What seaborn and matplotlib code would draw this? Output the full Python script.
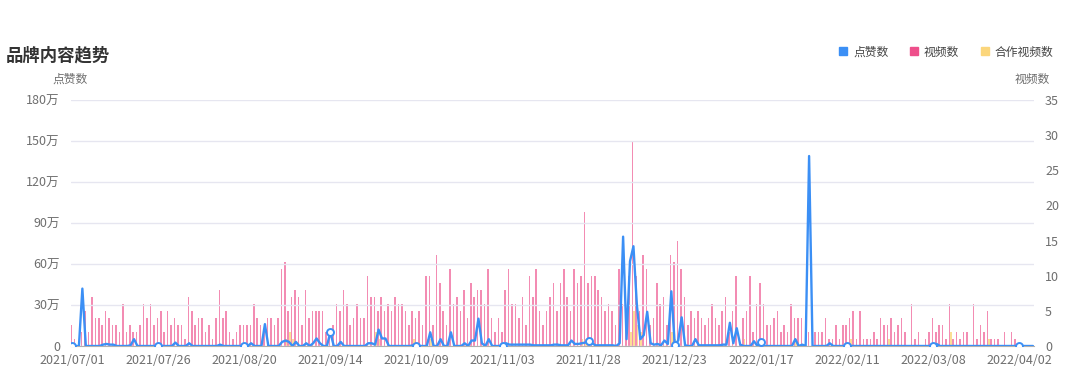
import pandas as pd
import seaborn as sns
import matplotlib.pyplot as plt
from matplotlib.lines import Line2D
from matplotlib.ticker import FuncFormatter

sns.set_style("white")
plt.rcParams['font.family'] = ['Noto Sans CJK SC', 'DejaVu Sans']

# daily values from 2021/07/01, 25 days per row
videos = [3, 1, 0, 2, 5, 2, 7, 4, 4, 3, 5, 4, 3, 3, 2, 6, 2, 3, 2, 2, 3, 6, 4, 6, 3,
          4, 5, 2, 5, 3, 4, 3, 3, 1, 7, 5, 3, 4, 4, 2, 3, 1, 4, 8, 4, 5, 2, 1, 2, 3,
          3, 3, 3, 6, 4, 3, 2, 4, 4, 3, 4, 11, 12, 5, 7, 8, 7, 3, 8, 4, 5, 5, 5, 5, 2,
          2, 3, 6, 5, 8, 6, 3, 4, 6, 4, 4, 10, 7, 7, 5, 7, 5, 6, 5, 7, 6, 6, 5, 3, 5,
          4, 5, 3, 10, 10, 3, 13, 9, 5, 3, 11, 6, 7, 5, 8, 4, 9, 7, 8, 8, 6, 11, 4, 2, 4,
          2, 8, 11, 6, 6, 4, 7, 3, 10, 7, 11, 5, 3, 5, 7, 9, 5, 9, 11, 7, 5, 11, 9, 10, 19,
          9, 10, 10, 8, 7, 5, 6, 5, 3, 11, 6, 3, 10, 29, 10, 5, 13, 11, 3, 4, 9, 6, 7, 3, 13,
          12, 15, 11, 7, 3, 5, 4, 5, 4, 3, 4, 6, 4, 3, 5, 7, 2, 5, 10, 1, 4, 5, 10, 2, 6,
          9, 6, 3, 3, 4, 5, 2, 3, 2, 6, 4, 4, 4, 0, 2, 0, 2, 2, 2, 4, 1, 1, 3, 1, 3,
          3, 4, 5, 1, 5, 1, 1, 1, 2, 1, 4, 3, 3, 4, 2, 3, 4, 2, 0, 6, 1, 2, 0, 1, 2,
          4, 2, 3, 3, 1, 6, 1, 2, 1, 2, 2, 0, 6, 1, 3, 2, 5, 1, 1, 1, 0, 2, 0, 2, 1,
          0, 0, 0, 0, 0]

coop = [0, 0, 0, 0, 0, 0, 0, 0, 0, 0, 0, 0, 0, 0, 0, 0, 0, 0, 0, 0, 0, 0, 0, 0, 0,
        0, 0, 0, 0, 0, 0, 0, 0, 0, 0, 0, 0, 0, 0, 0, 0, 0, 0, 0, 0, 0, 0, 0, 0, 0,
        0, 0, 0, 0, 0, 0, 0, 0, 0, 0, 0, 0, 1, 2, 1, 0, 0, 0, 0, 0, 0, 0, 0, 0, 0,
        0, 0, 0, 0, 0, 0, 0, 0, 0, 0, 0, 0, 0, 2, 1, 0, 0, 0, 0, 0, 0, 0, 0, 0, 1,
        0, 0, 0, 1, 1, 0, 0, 0, 0, 0, 0, 0, 0, 0, 0, 0, 0, 0, 0, 0, 0, 0, 0, 0, 0,
        0, 0, 0, 0, 0, 0, 0, 0, 0, 0, 0, 0, 0, 0, 0, 0, 0, 0, 0, 0, 0, 0, 0, 1, 1,
        1, 0, 0, 0, 0, 0, 0, 0, 0, 0, 0, 0, 2, 5, 3, 2, 0, 0, 0, 0, 0, 0, 0, 0, 2,
        1, 0, 0, 0, 0, 0, 0, 0, 0, 0, 0, 0, 0, 0, 0, 0, 0, 0, 0, 0, 1, 0, 0, 0, 0,
        0, 0, 0, 0, 0, 0, 0, 0, 0, 0, 1, 0, 0, 0, 0, 0, 0, 0, 0, 0, 0, 0, 0, 0, 0,
        0, 1, 0, 0, 0, 0, 0, 0, 0, 0, 0, 0, 1, 0, 0, 0, 0, 0, 0, 0, 0, 0, 0, 0, 0,
        0, 0, 0, 0, 0, 2, 0, 0, 0, 0, 0, 0, 0, 0, 0, 0, 1, 0, 0, 0, 0, 0, 0, 0, 0,
        0, 0, 0, 0, 0]

# 点赞数, unit 万
likes = [0, 0, 0, 42, 0, 0, 0, 0, 0, 1, 1.5, 1, 1, 0, 0, 0, 0, 0.5, 5, 0, 0, 0, 0, 0, 0,
         0, 0, 0, 0, 0, 2.5, 0, 0, 0, 2, 0, 0, 0, 0, 0, 0, 0, 0, 1, 0, 0, 0, 0, 0, 0,
         0, 0, 2, 0, 0, 0, 16, 0, 0, 0, 0, 3, 4, 3, 0, 3, 0, 0, 2, 0, 2, 5.5, 2, 0, 0,
         10, 0, 0, 3, 0, 0, 0, 0, 0, 0, 0, 2, 2, 1, 12, 5.5, 5.5, 0, 0, 0, 0, 0, 0, 0, 0.5,
         0, 0, 0, 0, 10, 0, 0, 5, 0, 0, 10, 0, 0, 0, 2, 0, 4, 4, 20, 2, 0, 5, 0, 0, 0,
         0, 2, 1, 1, 1, 1, 1, 1, 1, 0.5, 0.5, 0.5, 0.5, 0.5, 0.5, 1, 1, 0.5, 0.5, 0.5, 4, 1.5, 1.5, 2, 2.5,
         4, 2, 0.5, 0.5, 0.5, 0.5, 0.5, 0.5, 0, 2, 80, 5, 62, 73, 30, 5, 8, 25, 2, 1, 1.5, 0.5, 4, 1.5, 40,
         1, 4, 21, 0.5, 0, 0, 5, 0.5, 0.5, 0.5, 0.5, 0.5, 0.5, 0.5, 1, 1, 17, 2, 13, 1, 0, 0, 0, 3.5, 0,
         3, 0, 0, 0, 0, 0, 0, 0, 0, 0, 5, 0, 1, 0, 139, 0, 0, 0, 0, 0, 2, 0, 0, 0, 0,
         0, 0, 0, 0, 0, 0, 0, 0, 0, 0, 0, 0, 0, 0, 0, 0, 0, 0, 0, 0, 0, 0, 0, 0, 0,
         0, 1.5, 0, 0, 0, 0, 0, 0, 0, 0, 0, 0, 0, 0, 0, 0, 0, 0, 0, 0, 0, 0, 0, 0, 0,
         0, 0, 0, 0, 0]

days = list(range(len(videos)))
dates = pd.date_range('2021-07-01', periods=len(videos)).strftime('%Y/%m/%d')

blue = '#3b8ff5'
pink = '#f06fa0'
yellow = '#fbd67c'
grey = '#6e6e6e'

bars = pd.DataFrame({
    'day': days * 2,
    'value': videos + coop,
    'series': ['视频数'] * len(days) + ['合作视频数'] * len(days),
})

fig = plt.figure(figsize=(10.8, 3.83), dpi=100)
ax = fig.add_axes([71 / 1080, 1 - 346 / 383, (1034 - 71) / 1080, 246 / 383])
bax = ax.twinx()

sns.barplot(data=bars, x='day', y='value', hue='series', hue_order=['视频数', '合作视频数'],
            palette=[pink, yellow], saturation=1, errorbar=None, width=0.9,
            legend=False, ax=bax, linewidth=0)
for p in bax.patches:
    p.set_alpha(0.8)

sns.lineplot(x=days, y=likes, ax=ax, color=blue, lw=1.7, marker='o', markevery=25,
             markersize=5, markerfacecolor='white', markeredgecolor=blue,
             markeredgewidth=1.4, zorder=5)

ax.set_zorder(bax.get_zorder() + 1)
ax.patch.set_visible(False)

ax.set_xlim(-0.3, len(days) - 0.7)
ax.set_ylim(0, 180)
ax.set_yticks(range(0, 181, 30))
ax.yaxis.set_major_formatter(FuncFormatter(lambda v, _: '0' if v == 0 else f'{int(v)}万'))
bax.set_ylim(0, 35)
bax.set_yticks(range(0, 36, 5))

ax.set_xticks(days[::25])
ax.set_xticklabels(dates[::25])
ax.set_xlabel('')
ax.set_ylabel('')
bax.set_ylabel('')
bax.set_xlabel('')

ax.grid(axis='y', color='#e6e6f0', lw=1)
ax.grid(axis='x', visible=False)
for s in ['top', 'right', 'left']:
    ax.spines[s].set_visible(False)
    bax.spines[s].set_visible(False)
bax.spines['bottom'].set_visible(False)
ax.spines['bottom'].set_color('#b0b0b0')
ax.tick_params(axis='x', colors='#b0b0b0', length=4, width=1, labelcolor=grey, labelsize=9, pad=2)
ax.tick_params(axis='y', length=0, labelcolor=grey, labelsize=9, pad=8)
bax.tick_params(axis='y', length=0, labelcolor=grey, labelsize=9, pad=8)

fig.text(6 / 1080, 1 - 55 / 383, '品牌内容趋势', fontsize=12.5, fontweight='bold',
         color='#333333', va='center', ha='left')
fig.text(70 / 1080, 1 - 79 / 383, '点赞数', fontsize=8.5, color=grey, va='center', ha='center')
fig.text(1032 / 1080, 1 - 79 / 383, '视频数', fontsize=8.5, color=grey, va='center', ha='center')

handles = [Line2D([], [], ls='', marker='s', markersize=6, color=c) for c in [blue, '#ee4f8b', yellow]]
fig.legend(handles, ['点赞数', '视频数', '合作视频数'], ncol=3, loc='center right',
           bbox_to_anchor=(1064 / 1080, 1 - 52 / 383), frameon=False, fontsize=8.5,
           handlelength=0.7, handletextpad=0.5, columnspacing=1.8, labelcolor='#444444')

fig.savefig('out.png', dpi=100)
